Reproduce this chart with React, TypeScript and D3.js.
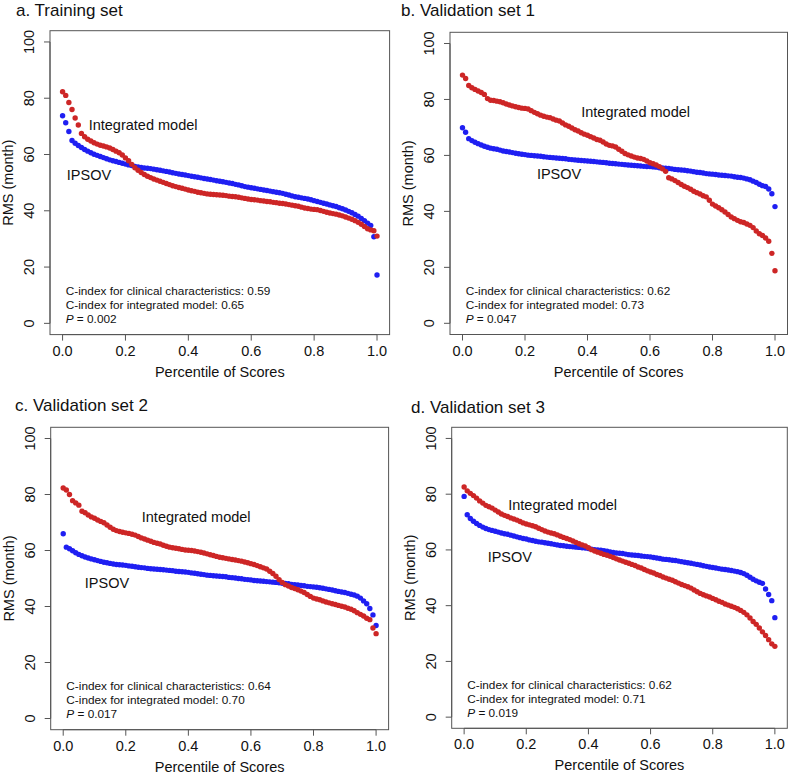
import React from 'react';
import * as d3 from 'd3';

// RMS (month), one value per percentile step of 0.01
const training_integrated = [
  82.3, 81.0, 78.5, 76.0, 73.0, 70.5, 67.5, 66.3, 65.4, 64.8,
  64.2, 63.7, 63.3, 63.0, 62.7, 62.3, 61.8, 61.2, 60.6, 59.8,
  58.8, 57.8, 56.5, 55.3, 54.4, 53.6, 52.9, 52.3, 51.8, 51.3,
  50.9, 50.5, 50.1, 49.7, 49.3, 48.9, 48.6, 48.3, 48.0, 47.7,
  47.4, 47.1, 46.9, 46.6, 46.4, 46.2, 46.0, 45.9, 45.8, 45.7,
  45.6, 45.5, 45.4, 45.2, 45.1, 45.0, 44.8, 44.6, 44.4, 44.2,
  44.0, 43.9, 43.8, 43.6, 43.5, 43.3, 43.2, 43.0, 42.9, 42.7,
  42.6, 42.4, 42.2, 42.0, 41.8, 41.6, 41.3, 41.0, 40.8, 40.6,
  40.5, 40.4, 40.1, 39.8, 39.5, 39.2, 39.0, 38.8, 38.5, 38.2,
  37.8, 37.4, 37.0, 36.5, 35.9, 35.2, 34.4, 33.6, 33.2, 32.9,
  31.0,
];
const training_ipsov = [
  73.8, 71.3, 68.2, 65.0, 64.0, 63.2, 62.5, 61.8, 61.2, 60.6,
  60.1, 59.7, 59.3, 58.9, 58.5, 58.1, 57.8, 57.5, 57.2, 56.9,
  56.6, 56.3, 56.1, 55.8, 55.6, 55.4, 55.2, 55.1, 55.0, 54.8,
  54.6, 54.4, 54.2, 54.0, 53.8, 53.5, 53.3, 53.1, 52.9, 52.7,
  52.5, 52.3, 52.1, 51.9, 51.7, 51.5, 51.3, 51.1, 50.9, 50.7,
  50.5, 50.3, 50.1, 49.9, 49.7, 49.4, 49.2, 48.9, 48.6, 48.4,
  48.2, 48.0, 47.8, 47.6, 47.4, 47.2, 47.0, 46.8, 46.6, 46.4,
  46.2, 45.9, 45.6, 45.3, 45.0, 44.8, 44.6, 44.4, 44.2, 43.9,
  43.6, 43.3, 43.0, 42.7, 42.4, 42.1, 41.8, 41.5, 41.1, 40.7,
  40.3, 39.8, 39.3, 38.7, 38.1, 37.3, 36.5, 35.6, 34.8, 30.8,
  17.2,
];

const val1_integrated = [
  88.7, 87.5, 85.0, 84.2, 83.6, 83.0, 82.5, 81.8, 80.3, 79.7,
  79.6, 79.4, 79.2, 78.8, 78.4, 78.0, 77.7, 77.4, 77.1, 76.9,
  76.8, 76.6, 76.0, 75.4, 74.9, 74.4, 74.0, 73.7, 73.5, 73.0,
  72.6, 72.3, 71.6, 70.9, 70.4, 69.8, 69.2, 68.7, 68.1, 67.6,
  67.2, 66.7, 66.2, 65.7, 65.4, 64.8, 64.1, 63.6, 63.4, 63.0,
  62.2, 61.5, 60.7, 60.2, 59.8, 59.4, 59.1, 58.9, 58.6, 58.0,
  57.4, 57.0, 56.6, 56.0, 55.2, 54.3, 52.0, 51.6, 51.0, 50.3,
  49.6, 49.0, 48.5, 47.9, 47.2, 46.7, 46.2, 45.6, 45.2, 44.0,
  42.6, 41.9, 41.3, 40.6, 39.8, 38.9, 38.0, 37.4, 36.8, 36.3,
  36.0, 35.5, 35.0, 34.2, 33.0, 32.0, 31.4, 30.5, 29.3, 25.0,
  18.8,
];
const val1_ipsov = [
  69.9, 68.3, 66.0, 65.3, 64.7, 64.2, 63.7, 63.3, 62.9, 62.6,
  62.4, 62.2, 61.9, 61.6, 61.4, 61.2, 61.0, 60.8, 60.6, 60.4,
  60.3, 60.1, 60.0, 59.9, 59.8, 59.7, 59.5, 59.4, 59.3, 59.2,
  59.1, 59.0, 58.9, 58.8, 58.6, 58.5, 58.4, 58.3, 58.2, 58.1,
  58.0, 57.9, 57.8, 57.7, 57.6, 57.5, 57.4, 57.2, 57.1, 57.0,
  56.9, 56.8, 56.7, 56.6, 56.5, 56.4, 56.3, 56.2, 56.1, 56.0,
  56.0, 55.9, 55.8, 55.6, 55.5, 55.4, 55.3, 55.2, 55.0, 54.9,
  54.8, 54.7, 54.5, 54.4, 54.2, 54.0, 53.9, 53.7, 53.5, 53.4,
  53.3, 53.2, 53.0, 52.9, 52.8, 52.7, 52.6, 52.4, 52.2, 52.1,
  51.9, 51.6, 51.3, 50.8, 50.3, 49.7, 49.2, 48.9, 48.0, 46.3,
  41.7,
];

const val2_integrated = [
  82.3, 81.6, 80.0, 77.8, 77.0, 76.2, 74.0, 73.5, 72.7, 72.0,
  71.5, 70.9, 70.4, 69.9, 69.1, 68.3, 67.6, 67.1, 66.8, 66.5,
  66.3, 66.1, 65.8, 65.5, 65.0, 64.5, 64.1, 63.7, 63.3, 62.9,
  62.6, 62.3, 61.9, 61.5, 61.2, 61.0, 60.8, 60.6, 60.4, 60.2,
  60.1, 60.0, 59.8, 59.6, 59.4, 59.1, 58.8, 58.5, 58.2, 57.9,
  57.6, 57.4, 57.2, 57.0, 56.8, 56.6, 56.4, 56.2, 55.9, 55.6,
  55.3, 55.0, 54.6, 54.2, 53.8, 53.4, 52.6, 51.8, 50.8, 49.6,
  48.6, 47.8, 47.3, 46.8, 46.4, 46.0, 45.5, 45.0, 44.3, 43.6,
  43.0, 42.7, 42.4, 42.0, 41.6, 41.3, 41.0, 40.7, 40.4, 40.1,
  39.8, 39.4, 39.0, 38.5, 37.8, 37.2, 36.6, 35.8, 35.3, 32.3,
  30.3,
];
const val2_ipsov = [
  66.0, 61.2, 60.6, 59.9, 59.2, 58.6, 58.1, 57.7, 57.3, 57.0,
  56.7, 56.4, 56.1, 55.8, 55.6, 55.4, 55.2, 55.0, 54.9, 54.8,
  54.7, 54.5, 54.4, 54.2, 54.0, 53.9, 53.8, 53.6, 53.5, 53.4,
  53.3, 53.2, 53.1, 53.0, 52.9, 52.8, 52.6, 52.5, 52.4, 52.3,
  52.2, 52.0, 51.9, 51.7, 51.5, 51.4, 51.2, 51.1, 51.0, 50.9,
  50.8, 50.7, 50.6, 50.4, 50.3, 50.2, 50.0, 49.9, 49.7, 49.6,
  49.5, 49.3, 49.2, 49.1, 49.0, 48.9, 48.8, 48.7, 48.6, 48.5,
  48.3, 48.2, 48.1, 47.9, 47.8, 47.7, 47.5, 47.4, 47.2, 47.1,
  47.0, 46.9, 46.7, 46.5, 46.3, 46.1, 45.9, 45.6, 45.4, 45.2,
  45.0, 44.7, 44.4, 44.1, 43.7, 43.0, 42.0, 41.0, 39.3, 37.0,
  33.2,
];

const val3_integrated = [
  82.6, 81.2, 80.3, 79.5, 78.6, 77.6, 76.8, 76.0, 75.5, 75.0,
  74.3, 73.6, 72.9, 72.4, 72.0, 71.5, 71.1, 70.7, 70.2, 69.7,
  69.3, 69.0, 68.7, 68.3, 67.8, 67.3, 66.8, 66.4, 66.1, 65.8,
  65.4, 64.9, 64.5, 64.1, 63.7, 63.2, 62.7, 62.2, 61.8, 61.4,
  60.8, 60.1, 59.6, 59.2, 58.8, 58.4, 58.1, 57.7, 57.3, 56.8,
  56.4, 56.0, 55.6, 55.2, 54.8, 54.4, 53.9, 53.5, 53.0, 52.5,
  52.1, 51.7, 51.2, 50.8, 50.3, 49.9, 49.5, 49.1, 48.6, 48.1,
  47.6, 47.2, 46.8, 46.3, 45.6, 45.0, 44.4, 43.9, 43.5, 43.1,
  42.6, 42.1, 41.6, 41.2, 40.6, 40.2, 39.8, 39.4, 38.9, 38.3,
  37.6, 36.7, 35.6, 34.3, 33.3, 32.0, 30.6, 29.3, 27.8, 26.3,
  25.4,
];
const val3_ipsov = [
  79.2, 72.6, 71.3, 70.3, 69.5, 68.8, 68.2, 67.7, 67.3, 67.0,
  66.7, 66.4, 66.1, 65.8, 65.6, 65.3, 65.0, 64.7, 64.4, 64.1,
  63.9, 63.6, 63.4, 63.1, 62.9, 62.8, 62.6, 62.4, 62.2, 62.0,
  61.8, 61.6, 61.5, 61.3, 61.2, 61.1, 61.0, 60.9, 60.8, 60.7,
  60.5, 60.3, 60.1, 60.0, 59.9, 59.7, 59.5, 59.3, 59.1, 58.9,
  58.8, 58.7, 58.5, 58.3, 58.2, 58.1, 58.0, 57.8, 57.7, 57.6,
  57.5, 57.3, 57.1, 56.9, 56.7, 56.6, 56.5, 56.3, 56.2, 56.0,
  55.8, 55.6, 55.4, 55.2, 55.0, 54.8, 54.6, 54.3, 54.1, 53.9,
  53.7, 53.5, 53.3, 53.1, 53.0, 52.8, 52.6, 52.4, 52.2, 51.9,
  51.5, 50.9, 50.2, 49.5, 48.9, 48.4, 48.0, 46.0, 44.0, 41.8,
  35.7,
];

const panel_titles = ['a. Training set', 'b. Validation set 1', 'c. Validation set 2', 'd. Validation set 3'];
const clinical_cindex = ['0.59', '0.62', '0.64', '0.62'];
const integrated_cindex = ['0.65', '0.73', '0.70', '0.71'];
const p_values = ['0.002', '0.047', '0.017', '0.019'];
const x_ticks = [0, 0.2, 0.4, 0.6, 0.8, 1.0];
const y_ticks = [0, 20, 40, 60, 80, 100];

// label positions in data units [percentile, RMS]
const integrated_label_pos = [[0.256, 70.4], [0.554, 75.5], [0.425, 72.0], [0.317, 76.3]];
const ipsov_label_pos = [[0.084, 52.7], [0.309, 53.3], [0.14, 48.5], [0.147, 57.6]];

const series = [
  [training_integrated, training_ipsov],
  [val1_integrated, val1_ipsov],
  [val2_integrated, val2_ipsov],
  [val3_integrated, val3_ipsov],
];

// plot boxes: [left, top, right, bottom] and title anchor
const boxes = [
  {box: [50, 30.7, 389.6, 334.6], title: [16, 16]},
  {box: [450, 32.3, 787.5, 334.5], title: [401, 16]},
  {box: [50.7, 427.3, 388.6, 729.7], title: [15, 411]},
  {box: [451.7, 427.3, 787.3, 728.3], title: [411, 413]},
];

const RED = '#cd2626';
const BLUE = '#1f1ff2';
const AXIS = '#555';
const FONT = '"Liberation Sans", Arial, sans-serif';

function Panel({ idx }: { idx: number }) {
  const [left, top, right, bottom] = boxes[idx].box;
  const x = d3.scaleLinear().domain([-0.04, 1.04]).range([left, right]);
  const y = d3.scaleLinear().domain([-4, 104]).range([bottom, top]);
  const [integrated, ipsov] = series[idx];
  const pct = (i: number, n: number) => i / (n - 1);

  return (
    <g fontFamily={FONT}>
      <text x={boxes[idx].title[0]} y={boxes[idx].title[1]} fontSize={17} fill='#111'>
        {panel_titles[idx]}
      </text>

      {ipsov.map((v, i) => (
        <circle key={'b' + i} cx={x(pct(i, ipsov.length))} cy={y(v)} r={2.7} fill={BLUE} />
      ))}
      {integrated.map((v, i) => (
        <circle key={'r' + i} cx={x(pct(i, integrated.length))} cy={y(v)} r={2.7} fill={RED} />
      ))}

      <rect x={left} y={top} width={right - left} height={bottom - top} fill='none' stroke={AXIS} strokeWidth={1} />

      {/* x axis */}
      <line x1={x(0)} x2={x(1)} y1={bottom} y2={bottom} stroke={AXIS} />
      {x_ticks.map(t => (
        <g key={'x' + t}>
          <line x1={x(t)} x2={x(t)} y1={bottom} y2={bottom + 6} stroke={AXIS} />
          <text x={x(t)} y={bottom + 21} fontSize={14.5} textAnchor='middle' fill='#111'>
            {d3.format('.1f')(t)}
          </text>
        </g>
      ))}
      <text x={(left + right) / 2} y={bottom + 42} fontSize={14.5} textAnchor='middle' fill='#111'>
        Percentile of Scores
      </text>

      {/* y axis */}
      <line x1={left} x2={left} y1={y(0)} y2={y(100)} stroke={AXIS} />
      {y_ticks.map(t => (
        <g key={'y' + t}>
          <line x1={left - 6} x2={left} y1={y(t)} y2={y(t)} stroke={AXIS} />
          <text
            transform={`translate(${left - 16},${y(t)}) rotate(-90)`}
            fontSize={14.5}
            textAnchor='middle'
            fill='#111'
          >
            {t}
          </text>
        </g>
      ))}
      <text
        transform={`translate(${left - 37},${(top + bottom) / 2}) rotate(-90)`}
        fontSize={14.5}
        textAnchor='middle'
        fill='#111'
      >
        RMS (month)
      </text>

      {/* curve labels */}
      <text x={x(integrated_label_pos[idx][0])} y={y(integrated_label_pos[idx][1])} dy='0.35em'
        fontSize={14.5} textAnchor='middle' fill='#111'>
        Integrated model
      </text>
      <text x={x(ipsov_label_pos[idx][0])} y={y(ipsov_label_pos[idx][1])} dy='0.35em'
        fontSize={14.5} textAnchor='middle' fill='#111'>
        IPSOV
      </text>

      {/* C-index notes */}
      <g fontSize={11.8} fill='#111'>
        <text x={x(0.01)} y={y(11.6)} dy='0.35em'>
          C-index for clinical characteristics: {clinical_cindex[idx]}
        </text>
        <text x={x(0.01)} y={y(6.6)} dy='0.35em'>
          C-index for integrated model: {integrated_cindex[idx]}
        </text>
        <text x={x(0.01)} y={y(1.5)} dy='0.35em'>
          <tspan fontStyle='italic'>P</tspan> = {p_values[idx]}
        </text>
      </g>
    </g>
  );
}

export default function App() {
  return (
    <svg width={790} height={776} style={{position: 'absolute', left: 0, top: 0, background: '#fff'}}>
      <rect width={790} height={776} fill='#fff' />
      {[0, 1, 2, 3].map(i => <Panel key={i} idx={i} />)}
    </svg>
  );
}
